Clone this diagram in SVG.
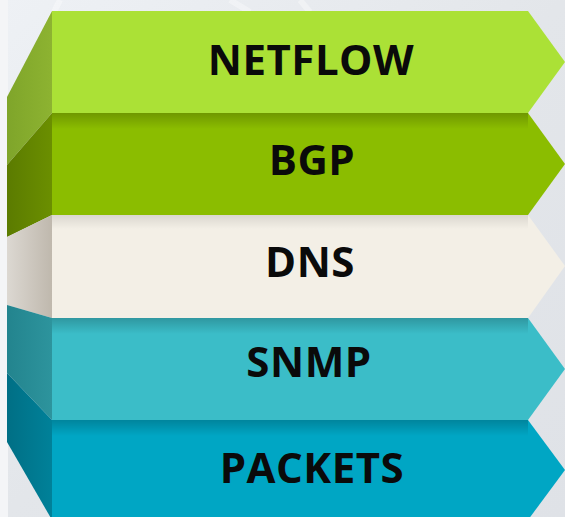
<svg xmlns="http://www.w3.org/2000/svg" width="565" height="517" viewBox="0 0 565 517">
  <defs>
    <linearGradient id="bg" x1="0" y1="0" x2="1" y2="1">
      <stop offset="0" stop-color="#eef1f5"/>
      <stop offset="0.5" stop-color="#e3e6ea"/>
      <stop offset="1" stop-color="#dfe2e7"/>
    </linearGradient>
    <linearGradient id="shadeTop" x1="0" y1="0" x2="0" y2="1">
      <stop offset="0" stop-color="#000" stop-opacity="0.2"/>
      <stop offset="1" stop-color="#000" stop-opacity="0"/>
    </linearGradient>
    <linearGradient id="sideNet" x1="0" y1="0" x2="1" y2="0">
      <stop offset="0" stop-color="#7fa52a"/>
      <stop offset="1" stop-color="#8db331"/>
    </linearGradient>
    <linearGradient id="sideBgp" x1="0" y1="0" x2="1" y2="0">
      <stop offset="0" stop-color="#5b7b00"/>
      <stop offset="1" stop-color="#6b8f00"/>
    </linearGradient>
    <linearGradient id="sideDns" x1="0" y1="0" x2="1" y2="0">
      <stop offset="0" stop-color="#dcd8d2"/>
      <stop offset="1" stop-color="#bfb8ad"/>
    </linearGradient>
    <linearGradient id="sideSnmp" x1="0" y1="0" x2="1" y2="0">
      <stop offset="0" stop-color="#23848e"/>
      <stop offset="1" stop-color="#2d949d"/>
    </linearGradient>
    <linearGradient id="sidePkt" x1="0" y1="0" x2="1" y2="0">
      <stop offset="0" stop-color="#006f85"/>
      <stop offset="1" stop-color="#008199"/>
    </linearGradient>
  </defs>
  <style>
    .lbl { font-family: "Open Sans", "Liberation Sans", sans-serif; font-weight: 700; font-size: 42px; letter-spacing: 0.5px; fill: #0a0a0a; text-anchor: middle; }
    .shade { fill: url(#shadeTop); }
  </style>

  <rect x="0" y="0" width="565" height="517" fill="url(#bg)"/>
  <rect x="0" y="0" width="8" height="517" fill="#f4f5f7"/>
  <g stroke="#ffffff" stroke-opacity="0.35" stroke-width="6" fill="none">
    <path d="M60 0 L40 40"/>
    <path d="M230 0 L250 12"/>
    <path d="M300 0 L310 12"/>
  </g>

  <g id="netflow">
    <polygon points="52,11 52,113 7,165 7,97" fill="url(#sideNet)"/>
    <polygon points="52,11 528,11 565,62 528,113 52,113" fill="#abe136"/>
    <text class="lbl" x="311" y="75">NETFLOW</text>
  </g>

  <g id="bgp">
    <polygon points="52,113 52,215 7,237 7,165" fill="url(#sideBgp)"/>
    <polygon points="52,113 528,113 565,164 528,215 52,215" fill="#8bbd00"/>
    <rect class="shade" x="52" y="113" width="476" height="16"/>
    <text class="lbl" x="312" y="175">BGP</text>
  </g>

  <g id="dns">
    <polygon points="52,215 52,318 7,305 7,237" fill="url(#sideDns)"/>
    <polygon points="52,215 528,215 565,266 528,318 52,318" fill="#f3efe6"/>
    <rect class="shade" x="52" y="215" width="476" height="14" opacity="0.5"/>
    <text class="lbl" x="310" y="277">DNS</text>
  </g>

  <g id="snmp">
    <polygon points="52,318 52,420 7,373 7,305" fill="url(#sideSnmp)"/>
    <polygon points="52,318 528,318 565,369 528,420 52,420" fill="#3bbdc8"/>
    <rect class="shade" x="52" y="318" width="476" height="16"/>
    <text class="lbl" x="309" y="377">SNMP</text>
  </g>

  <g id="packets">
    <polygon points="52,420 52,520 7,442 7,373" fill="url(#sidePkt)"/>
    <polygon points="52,420 528,420 565,470 528,520 52,520" fill="#00a6c4"/>
    <rect class="shade" x="52" y="420" width="476" height="16"/>
    <text class="lbl" x="312" y="483">PACKETS</text>
  </g>

  <g id="connectors"/>
</svg>
